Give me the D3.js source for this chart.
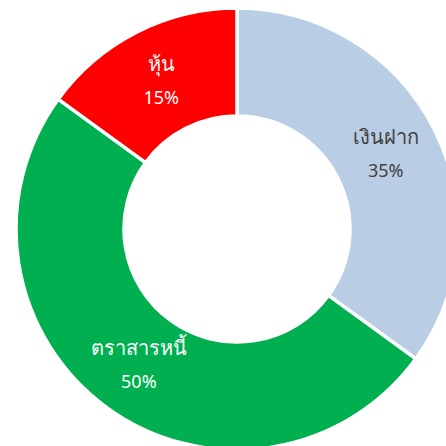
<!DOCTYPE html>
<html lang="th">
<head>
<meta charset="UTF-8">
<title>Donut</title>
<script src="https://d3js.org/d3.v7.min.js"></script>
<style>
  html, body { margin: 0; padding: 0; background: #fff; }
  text { font-family: 'Noto Sans', 'DejaVu Sans', sans-serif; }
</style>
</head>
<body>
<div id="chart"></div>
<script>
// data
var names = ["เงินฝาก", "ตราสารหนี้", "หุ้น"];
var shares = [35, 50, 15];
var colors = ["#B9CDE5", "#00AF50", "#FF0000"];
var labelColors = ["#404040", "#ffffff", "#ffffff"];

var data = names.map(function (n, i) {
  return { name: n, value: shares[i], color: colors[i], label: labelColors[i] };
});

var W = 446, H = 446;
var cx = 237, cy = 229;
var outer = 221, inner = 113;

var svg = d3.select("#chart")
  .append("svg")
  .attr("width", W)
  .attr("height", H)
  .append("g")
  .attr("transform", `translate(${cx}, ${cy})`);

var pie = d3.pie()
  .sort(null)
  .value(function (d) { return d.value; });

var arc = d3.arc()
  .innerRadius(inner)
  .outerRadius(outer);

var labelArc = d3.arc()
  .innerRadius((inner + outer) / 2)
  .outerRadius((inner + outer) / 2);

var slices = svg.selectAll("g.slice")
  .data(pie(data))
  .enter()
  .append("g")
  .attr("class", "slice");

slices.append("path")
  .attr("d", arc)
  .style("fill", function (d) { return d.data.color; })
  .style("stroke", "#fff")
  .style("stroke-width", 3.5);

// category name
slices.append("text")
  .attr("transform", function (d) { return `translate(${labelArc.centroid(d)})`; })
  .attr("text-anchor", "middle")
  .attr("y", -9)
  .style("font-size", "20px")
  .style("fill", function (d) { return d.data.label; })
  .text(function (d) { return d.data.name; });

// percent
slices.append("text")
  .attr("transform", function (d) { return `translate(${labelArc.centroid(d)})`; })
  .attr("text-anchor", "middle")
  .attr("y", 24)
  .style("font-size", "18px")
  .style("fill", function (d) { return d.data.label; })
  .text(function (d) { return d.data.value + "%"; });
</script>
</body>
</html>
